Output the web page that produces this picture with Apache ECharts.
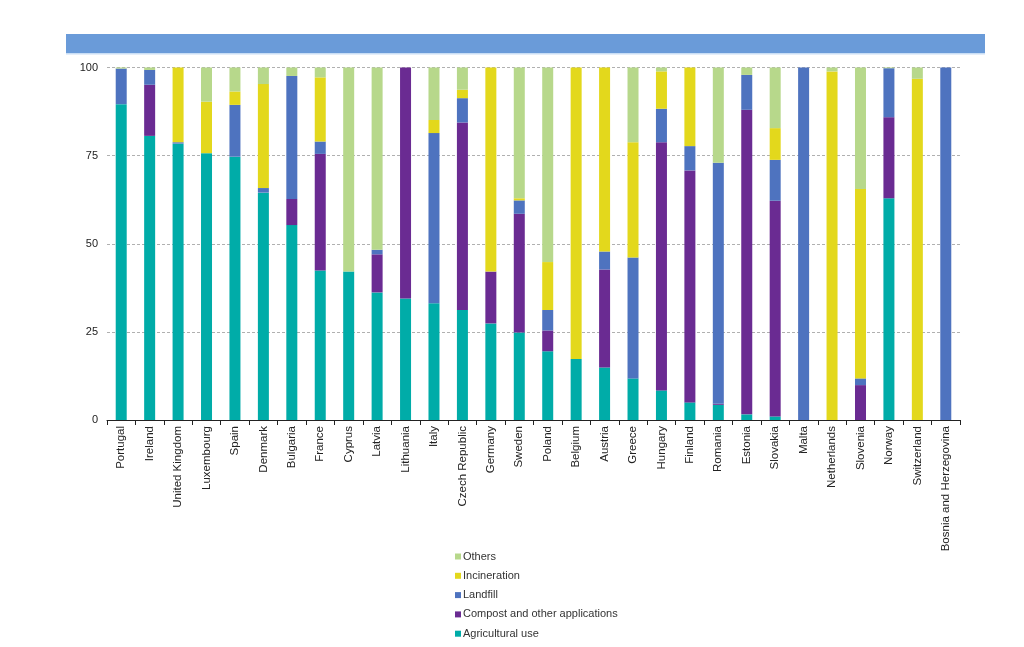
<!DOCTYPE html>
<html>
<head>
<meta charset="utf-8">
<script src="https://cdn.jsdelivr.net/npm/echarts@6/dist/echarts.min.js"></script>
<style>
html,body{margin:0;padding:0;background:#fff;}
#chart{width:1024px;height:647px;}
</style>
</head>
<body>
<div id="chart"></div>
<script>
const categories = ["Portugal","Ireland","United Kingdom","Luxembourg","Spain","Denmark","Bulgaria","France","Cyprus","Latvia","Lithuania","Italy","Czech Republic","Germany","Sweden","Poland","Belgium","Austria","Greece","Hungary","Finland","Romania","Estonia","Slovakia","Malta","Netherlands","Slovenia","Norway","Switzerland","Bosnia and Herzegovina"];
const agricultural = [89.6,80.6,78.4,75.7,74.7,64.5,55.3,42.4,42.1,36.2,34.5,33.1,31.2,27.4,24.8,19.5,17.3,14.9,11.8,8.4,5.0,4.3,1.6,1.0,0,0,0,62.9,0,0];
const compost      = [0,14.5,0,0,0,0,7.4,33.1,0,10.8,65.5,0,53.2,14.7,33.7,5.9,0,27.8,0,70.4,65.8,0.3,86.4,61.2,0,0,9.9,23.0,0,0];
const landfill     = [10.1,4.2,0.4,0,14.7,1.3,34.9,3.5,0,1.3,0,48.3,6.9,0,3.8,5.8,0,5.1,34.3,9.5,6.9,68.4,9.9,11.6,100,0,1.9,13.9,0,100];
const incineration = [0,0,21.2,14.6,3.8,29.5,0,18.2,0,0,0,3.7,2.4,57.9,0.6,13.6,82.7,52.2,32.7,10.6,22.3,0,0,9.0,0,98.9,53.7,0,96.8,0];
const others       = [0.3,0.7,0,9.7,6.8,4.7,2.4,2.8,57.9,51.7,0,14.9,6.3,0,37.1,55.2,0,0,21.2,1.1,0,27.0,2.1,17.2,0,1.1,34.5,0.2,3.2,0];
const yTicks = [0,25,50,75,100];

const FONT = "'Liberation Sans', Arial, sans-serif";
const chart = echarts.init(document.getElementById('chart'), null, {renderer:'canvas'});
function s(name, data, color){
  return {name, type:'bar', stack:'total', data, barWidth:11,
    itemStyle:{color}, emphasis:{disabled:true}};
}
chart.setOption({
  animation:false,
  backgroundColor:'#ffffff',
  textStyle:{fontFamily:FONT},
  graphic:[
    {type:'rect', shape:{x:66,y:34,width:919,height:19}, style:{fill:'#6a9bd9'}},
    {type:'rect', shape:{x:66,y:53,width:919,height:1.5}, style:{fill:'#c9def5'}}
  ],
  grid:{left:107, right:64, top:67.5, bottom:227, containLabel:false},
  legend:{
    orient:'vertical', left:455, top:550, height:100, padding:0,
    itemWidth:6, itemHeight:6, itemGap:6.3,
    icon:'rect',
    textStyle:{fontFamily:FONT, fontSize:11, color:'#333', padding:[0,0,0,-3], height:13, lineHeight:13},
    data:['Others','Incineration','Landfill','Compost and other applications','Agricultural use']
  },
  xAxis:{
    type:'category', data:categories,
    axisLine:{show:true, lineStyle:{color:'#222', width:1}},
    axisTick:{show:true, length:5, lineStyle:{color:'#222'}},
    axisLabel:{rotate:90, fontFamily:FONT, fontSize:11.5, color:'#222', margin:6, interval:0}
  },
  yAxis:{
    type:'value', min:yTicks[0], max:yTicks[yTicks.length-1], interval:25,
    axisLine:{show:false}, axisTick:{show:false},
    axisLabel:{fontFamily:FONT, fontSize:11, color:'#222', margin:9},
    splitLine:{show:true, lineStyle:{color:'#b0b0b0', type:[3,2], width:1}}
  },
  series:[
    s('Agricultural use', agricultural, '#00aca8'),
    s('Compost and other applications', compost, '#6a2b92'),
    s('Landfill', landfill, '#4e73bf'),
    s('Incineration', incineration, '#e3d81c'),
    s('Others', others, '#b7d88b')
  ]
});
</script>
</body>
</html>
